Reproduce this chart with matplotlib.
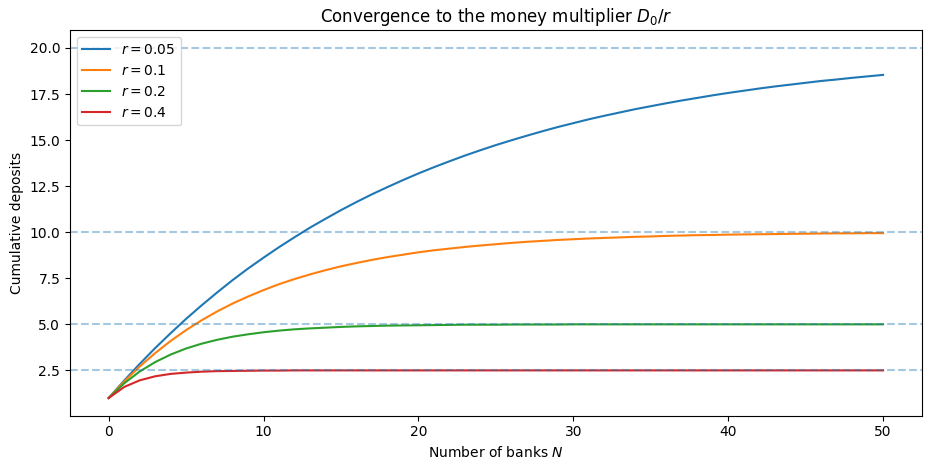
import matplotlib
matplotlib.use("Agg")
import matplotlib.pyplot as plt

N = list(range(51))
rates = [0.05, 0.1, 0.2, 0.4]
limits = [20.0, 10.0, 5.0, 2.5]

d_005 = [1.00, 1.95, 2.85, 3.71, 4.52, 5.30, 6.03, 6.73, 7.40, 8.03,
         8.62, 9.19, 9.73, 10.25, 10.73, 11.20, 11.64, 12.06, 12.45, 12.83,
         13.19, 13.53, 13.85, 14.16, 14.45, 14.73, 14.99, 15.24, 15.48, 15.71,
         15.92, 16.13, 16.32, 16.50, 16.68, 16.84, 17.00, 17.15, 17.29, 17.43,
         17.56, 17.68, 17.80, 17.91, 18.01, 18.11, 18.21, 18.29, 18.38, 18.46,
         18.54]
d_01 = [1.00, 1.90, 2.71, 3.44, 4.10, 4.69, 5.22, 5.70, 6.13, 6.51,
        6.86, 7.18, 7.46, 7.71, 7.94, 8.15, 8.33, 8.50, 8.65, 8.78,
        8.91, 9.02, 9.11, 9.20, 9.28, 9.35, 9.42, 9.48, 9.53, 9.58,
        9.62, 9.66, 9.69, 9.72, 9.75, 9.77, 9.80, 9.82, 9.84, 9.85,
        9.87, 9.88, 9.89, 9.90, 9.91, 9.92, 9.93, 9.94, 9.94, 9.95,
        9.95]
d_02 = [1.00, 1.80, 2.44, 2.95, 3.36, 3.69, 3.95, 4.16, 4.33, 4.46,
        4.57, 4.66, 4.73, 4.78, 4.82, 4.86, 4.89, 4.91, 4.93, 4.94,
        4.95, 4.96, 4.97, 4.98, 4.98, 4.98, 4.99, 4.99, 4.99, 4.99,
        5.00, 5.00, 5.00, 5.00, 5.00, 5.00, 5.00, 5.00, 5.00, 5.00,
        5.00, 5.00, 5.00, 5.00, 5.00, 5.00, 5.00, 5.00, 5.00, 5.00,
        5.00]
d_04 = [1.00, 1.60, 1.96, 2.18, 2.31, 2.38, 2.43, 2.46, 2.47, 2.48,
        2.49, 2.49, 2.50, 2.50, 2.50, 2.50, 2.50, 2.50, 2.50, 2.50,
        2.50, 2.50, 2.50, 2.50, 2.50, 2.50, 2.50, 2.50, 2.50, 2.50,
        2.50, 2.50, 2.50, 2.50, 2.50, 2.50, 2.50, 2.50, 2.50, 2.50,
        2.50, 2.50, 2.50, 2.50, 2.50, 2.50, 2.50, 2.50, 2.50, 2.50,
        2.50]
series = [d_005, d_01, d_02, d_04]
labels = ["$r = 0.05$", "$r = 0.1$", "$r = 0.2$", "$r = 0.4$"]

fig, ax = plt.subplots(figsize=(9.33, 4.69), dpi=100)
for y, lab, lim in zip(series, labels, limits):
    ax.plot(N, y, label=lab, lw=1.5)
    ax.axhline(lim, ls="--", alpha=0.4, lw=1.5)
ax.set_xlabel("Number of banks $N$")
ax.set_ylabel("Cumulative deposits")
ax.set_title("Convergence to the money multiplier $D_0/r$")
ax.legend(loc="upper left")
fig.subplots_adjust(left=0.075, right=0.988, top=0.935, bottom=0.114)
fig.savefig("out.png", dpi=100)
